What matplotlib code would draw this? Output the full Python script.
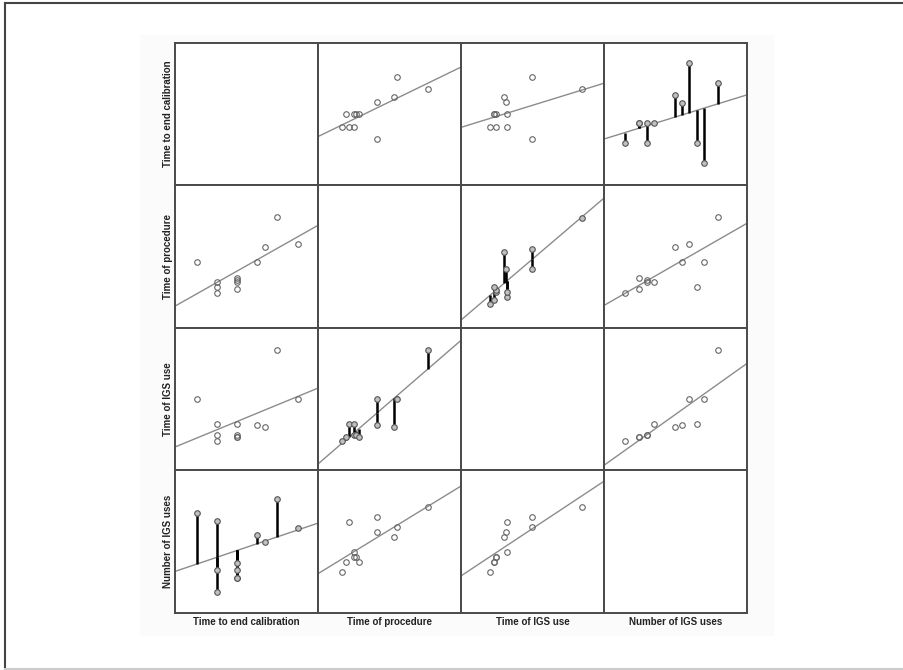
import numpy as np
import matplotlib.pyplot as plt
from matplotlib.patches import Rectangle
from matplotlib.lines import Line2D

names = ['Time to end calibration', 'Time of procedure', 'Time of IGS use', 'Number of IGS uses']

# one value per case (12 cases)
calib = [10, 15, 15, 15, 20, 20, 20, 20, 25, 27, 30, 35]
procedure = [95, 60, 67, 72, 64, 72, 74, 77, 95, 112, 146, 115]
igs_time = [62, 20, 37, 26, 24, 37, 26, 24, 36, 34, 112, 62]
igs_uses = [12, 1, 11, 4, 3, 5, 4, 3, 9, 8, 14, 10]

data = [np.array(calib, float), np.array(procedure, float),
        np.array(igs_time, float), np.array(igs_uses, float)]

# axis ranges per variable
lims = {0: (4.5, 40.1), 1: (36.2, 179.2), 2: (-9.1, 133.9), 3: (-1.95, 18.05)}
# some panels were drawn with a wider y range
y_over = {(0, 1): (-8.7, 48.8), (0, 2): (-8.7, 48.8),
          (1, 0): (20.2, 182.2), (1, 3): (20.2, 182.2),
          (3, 1): (-7.1, 21.4), (3, 2): (-7.1, 21.4)}
# panels with residual drop lines
resid = [(0, 3), (1, 2), (2, 1), (3, 0)]

W, H = 904, 670
fig = plt.figure(figsize=(W / 100, H / 100), dpi=100)
fig.patch.set_facecolor('white')

# faint backdrop and outer frame
fig.patches.append(Rectangle((140 / W, 1 - 635 / H), 633 / W, 600 / H,
                             transform=fig.transFigure, color='#fbfbfb', zorder=-5))
fig.lines.append(Line2D([5 / W, 5 / W], [1 - 669 / H, 1 - 3 / H], transform=fig.transFigure,
                        color='#444444', lw=1.5))
fig.lines.append(Line2D([5 / W, 1], [1 - 3 / H, 1 - 3 / H], transform=fig.transFigure,
                        color='#444444', lw=1.5))
fig.lines.append(Line2D([5 / W, 1], [1 - 669 / H, 1 - 669 / H], transform=fig.transFigure,
                        color='#cccccc', lw=1.5))

x0, y0, cw, ch = 175, 42.8, 143, 142.5
lab_font = dict(family='Liberation Sans', fontsize=7, fontweight='bold', color='#222222')

for i in range(4):
    for j in range(4):
        ax = fig.add_axes([(x0 + cw * j) / W, 1 - (y0 + ch * (i + 1)) / H, cw / W, ch / H])
        ax.set_zorder(2)
        ax.set_facecolor('white')
        ax.set_xticks([])
        ax.set_yticks([])
        for s in ax.spines.values():
            s.set_color('#4a4a4a')
            s.set_linewidth(1.4)
        xl = lims[j]
        yl = y_over.get((i, j), lims[i])
        ax.set_xlim(xl)
        ax.set_ylim(yl)
        if i != j:
            x, y = data[j], data[i]
            b, a = np.polyfit(x, y, 1)
            xs = np.array(xl)
            ax.plot(xs, a + b * xs, color='#8c8c8c', lw=1.0, zorder=2)
            if (i, j) in resid:
                ax.vlines(x, y, a + b * x, color='black', lw=1.8, zorder=3)
                ax.plot(x, y, 'o', ms=4, mfc='#c0c0c0', mec='#555555', mew=0.8, zorder=4)
            else:
                ax.plot(x, y, 'o', ms=4, mfc='none', mec='#666666', mew=0.8, zorder=4)
        if j == 0:
            fig.text(168 / W, 1 - (y0 + ch * (i + 0.5)) / H, names[i], rotation=90,
                     ha='center', va='center', **lab_font)
        if i == 3:
            fig.text((x0 + cw * (j + 0.5)) / W, 1 - 622 / H, names[j],
                     ha='center', va='center', **lab_font)

fig.savefig('out.png', dpi=100)
